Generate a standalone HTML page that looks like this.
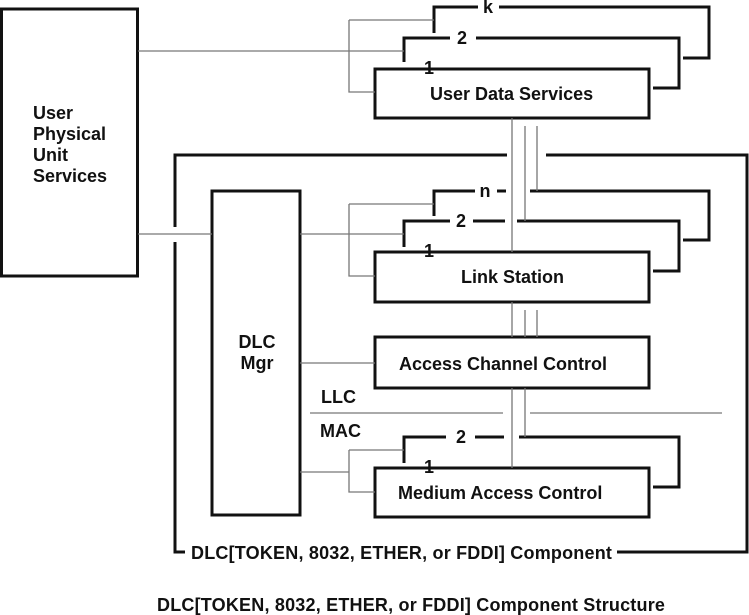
<!DOCTYPE html>
<html><head><meta charset="utf-8"><style>
html,body{margin:0;padding:0;background:#fff;}
svg{display:block;}
text{font-family:"Liberation Sans",Arial,sans-serif;font-weight:bold;fill:#111;}
</style></head><body>
<svg width="749" height="615" viewBox="0 0 749 615" xmlns="http://www.w3.org/2000/svg">
<g fill="none" stroke="#111" stroke-width="3">
<rect x="1.5" y="9" width="136" height="267"/>
<rect x="375" y="69" width="274" height="49"/>
<path d="M375 69 H420 M440 69 H649"/>
<path d="M404 62 V38 H450 M476 38 H679 V88 H653"/>
<path d="M434 33 V7 H478 M499 7 H709 V58 H683"/>
<path d="M507 155 H175 V227 M175 242 V552 H185"/>
<path d="M546 155 H747 V552 H617"/>
<rect x="212" y="191" width="88" height="324"/>
<rect x="375" y="252" width="274" height="50"/>
<path d="M375 252 H420 M440 252 H649"/>
<path d="M404 247 V221 H450 M473 221 H505 M517 221 H679 V271 H653"/>
<path d="M434 216 V191 H475 M497 191 H506 M530 191 H709 V240 H683"/>
<rect x="375" y="337" width="274" height="51"/>
<rect x="375" y="468" width="274" height="49"/>
<path d="M375 468 H416 M440 468 H649"/>
<path d="M404 463 V437 H446 M475 437 H504 M519 437 H679 V487 H653"/>
</g>
<g fill="none" stroke="#777" stroke-width="1.3">
<path d="M138 51 H404 M349 20 H434 M349 20 V92 H375"/>
<path d="M138 234 H175 M175 234 H212 M300 234 H404 M349 204 H434 M349 204 V276 H375"/>
<path d="M512 118 V252 M525 126 V221 M537 126 V191"/>
<path d="M512 302 V337 M525 310 V337 M537 310 V337"/>
<path d="M300 363 H375"/>
<path d="M310 413 H503 M530 413 H722"/>
<path d="M512 388 V468 M525 388 V437"/>
<path d="M300 472 H349 M349 450 H404 M349 450 V492 H375"/>
</g>
<text x="33" y="119" font-size="18">User</text>
<text x="33" y="140" font-size="18">Physical</text>
<text x="33" y="161" font-size="18">Unit</text>
<text x="33" y="182" font-size="18">Services</text>
<text x="430" y="100" font-size="18">User Data Services</text>
<text x="429" y="74" font-size="18" text-anchor="middle">1</text>
<text x="462" y="44" font-size="18" text-anchor="middle">2</text>
<text x="488" y="13" font-size="18" text-anchor="middle">k</text>
<text x="485" y="197" font-size="18" text-anchor="middle">n</text>
<text x="461" y="227" font-size="18" text-anchor="middle">2</text>
<text x="429" y="257" font-size="18" text-anchor="middle">1</text>
<text x="461" y="283" font-size="18">Link Station</text>
<text x="257" y="348" font-size="18" text-anchor="middle">DLC</text>
<text x="257" y="369" font-size="18" text-anchor="middle">Mgr</text>
<text x="399" y="370" font-size="18">Access Channel Control</text>
<text x="321" y="403" font-size="18">LLC</text>
<text x="320" y="437" font-size="18">MAC</text>
<text x="461" y="443" font-size="18" text-anchor="middle">2</text>
<text x="429" y="473" font-size="18" text-anchor="middle">1</text>
<text x="398" y="499" font-size="18">Medium Access Control</text>
<text x="191" y="559" font-size="18" letter-spacing="0.2">DLC[TOKEN, 8032, ETHER, or FDDI] Component</text>
<text x="157" y="611" font-size="18" letter-spacing="0.2">DLC[TOKEN, 8032, ETHER, or FDDI]  Component Structure</text>
</svg>
</body></html>
